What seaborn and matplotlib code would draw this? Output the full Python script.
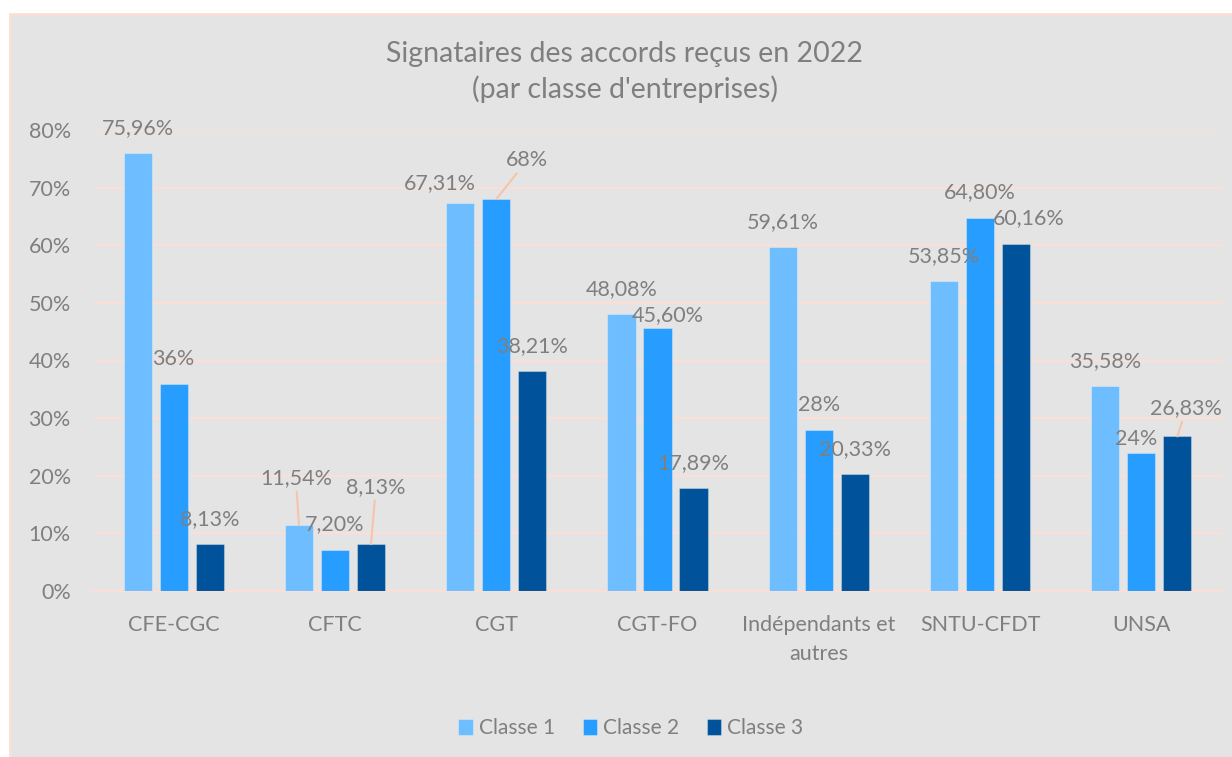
import matplotlib
matplotlib.use("Agg")
import matplotlib.pyplot as plt
from matplotlib.patches import Rectangle
import pandas as pd
import seaborn as sns

# données
categories = ['CFE-CGC', 'CFTC', 'CGT', 'CGT-FO', 'Indépendants et\nautres', 'SNTU-CFDT', 'UNSA']
classes = ['Classe 1', 'Classe 2', 'Classe 3']
classe1 = [75.96, 11.54, 67.31, 48.08, 59.61, 53.85, 35.58]
classe2 = [36.00, 7.20, 68.00, 45.60, 28.00, 64.80, 24.00]
classe3 = [8.13, 8.13, 38.21, 17.89, 20.33, 60.16, 26.83]

colors = ['#6dbdff', '#279dff', '#00529a']
text_grey = '#7f7f7f'
grid_pink = '#f9dfd6'
leader_col = '#f6c4aa'

# décalage (px) des étiquettes par rapport au haut de chaque barre
# clé = (indice classe, indice syndicat); par défaut (0, 25)
label_offsets = {
    (0, 1): (-3, 46), (0, 2): (-20, 20),
    (1, 2): (31, 39), (1, 3): (10, 13), (1, 6): (-5, 14),
    (2, 1): (5, 57), (2, 5): (13, 26), (2, 6): (9, 28),
}
leaders = {(0, 1), (1, 2), (2, 1), (2, 6)}


def fmt_pct(v):
    if v == round(v):
        return f"{int(v)}%"
    return f"{v:.2f}".replace('.', ',') + '%'


df = pd.DataFrame({
    'Syndicat': categories * 3,
    'Classe': [c for c in classes for _ in categories],
    'Taux': classe1 + classe2 + classe3,
})

sns.set_style('white')
plt.rcParams['font.family'] = ['Lato', 'DejaVu Sans']

fig = plt.figure(figsize=(12.32, 7.57), dpi=100)
fig.patch.set_facecolor('white')
fig.patches.append(Rectangle((10 / 1232, -0.01), 1.0, (757 - 14) / 757 + 0.01,
                             transform=fig.transFigure, facecolor='#e4e4e4',
                             edgecolor=grid_pink, lw=2, zorder=-5))

ax = fig.add_axes([93 / 1232, 166 / 757, 1129 / 1232, 461 / 757])
ax.set_facecolor('none')

sns.barplot(data=df, x='Syndicat', y='Taux', hue='Classe', palette=colors,
            saturation=1, width=0.67, gap=0.22, ax=ax, legend=False,
            edgecolor=(1, 1, 1, 0.3), linewidth=0.8, zorder=3)

ax.set_ylim(0, 80)
ax.set_yticks(range(0, 81, 10))
ax.set_yticklabels([f"{v}%" for v in range(0, 81, 10)])
ax.yaxis.grid(True, color=grid_pink, lw=1.6)
ax.set_axisbelow(True)
for s in ['top', 'right', 'left']:
    ax.spines[s].set_visible(False)
ax.spines['bottom'].set_color(grid_pink)
ax.spines['bottom'].set_linewidth(1.6)
ax.tick_params(axis='both', length=0, labelsize=15.5, labelcolor=text_grey)
ax.tick_params(axis='y', pad=16)
ax.tick_params(axis='x', pad=17)
for lab in ax.get_xticklabels():
    lab.set_linespacing(1.6)
ax.set_xlabel('')
ax.set_ylabel('')

# étiquettes de données
for i, cont in enumerate(ax.containers):
    for j, bar in enumerate(cont):
        x = bar.get_x() + bar.get_width() / 2
        y = bar.get_height()
        dx, dy = label_offsets.get((i, j), (0, 25))
        arrow = None
        if (i, j) in leaders:
            arrow = dict(arrowstyle='-', color=leader_col, lw=1.5, shrinkA=0, shrinkB=0)
        ax.annotate(fmt_pct(y), xy=(x, y), xytext=(dx, dy), textcoords='offset pixels',
                    ha='center', va='center', fontsize=15.5, color=text_grey,
                    arrowprops=arrow, zorder=5, annotation_clip=False)

fig.text(625 / 1232, 1 - 72 / 757,
         "Signataires des accords reçus en 2022\n(par classe d'entreprises)",
         ha='center', va='center', fontsize=20.5, color=text_grey, linespacing=1.35)

ax.legend(ax.containers, classes, ncol=3, frameon=False, loc='center',
          bbox_to_anchor=(631 / 1232, 29 / 757), bbox_transform=fig.transFigure,
          handlelength=0.7, handleheight=0.8, handletextpad=0.3, columnspacing=1.3,
          fontsize=15, labelcolor=text_grey)

fig.savefig('out.png', dpi=100, facecolor=fig.get_facecolor())
